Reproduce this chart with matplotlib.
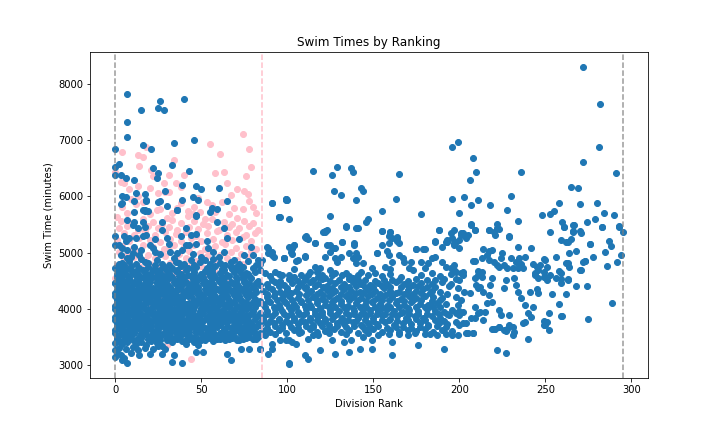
import numpy as np
import matplotlib.pyplot as plt

# (division rank, swim time in minutes)
# pink group: ranks 0..85, mostly hidden under the blue points
pink_top = [
    (74, 7120), (55, 6940), (78, 6850), (61, 6760), (4, 6795), (13, 6740), (18, 6885),
    (14, 6545), (34, 6650), (79, 6525), (58, 6420), (63, 6435), (76, 6365), (40, 6380),
    (31, 6380), (21, 6480), (22, 6365), (0, 6435), (3, 6260), (8, 6135), (5, 6245),
    (13, 6190), (20, 6155), (35, 6245), (38, 6170), (28, 6245), (65, 6245), (71, 6135),
    (75, 6100), (77, 6045), (67, 6030), (25, 6065), (29, 6080), (31, 6080), (13, 6010),
    (48, 5975), (53, 5900), (42, 5740), (62, 5900), (80, 5810), (82, 5700), (74, 5775),
    (4, 5810), (24, 5755), (26, 5775), (36, 5790), (49, 5720), (42, 5650), (45, 5685),
    (58, 5720), (52, 5600), (71, 5610), (30, 5610), (1, 5630), (16, 6700),
    (7, 5700), (12, 5860), (20, 5680), (33, 5700), (38, 5880), (46, 5820), (56, 5850),
    (66, 5690), (69, 5800), (78, 5920), (9, 5950), (16, 5900),
]
pink_core = [
    (3, 5560), (9, 5520), (16, 5600), (22, 5540), (27, 5500), (33, 5580), (38, 5530),
    (46, 5570), (51, 5510), (56, 5590), (63, 5540), (68, 5500), (75, 5560), (80, 5520),
    (2, 5440), (7, 5470), (13, 5410), (19, 5480), (25, 5430), (31, 5460), (36, 5400),
    (43, 5450), (48, 5420), (54, 5480), (60, 5410), (66, 5460), (72, 5430), (78, 5470),
    (83, 5400), (5, 5350), (11, 5320), (17, 5380), (23, 5310), (29, 5360), (35, 5330),
    (41, 5370), (47, 5300), (53, 5340), (59, 5380), (65, 5320), (70, 5360), (76, 5310),
    (81, 5350), (1, 5230), (8, 5200), (14, 5260), (20, 5220), (26, 5180), (32, 5240),
    (38, 5200), (44, 5260), (50, 5210), (57, 5250), (62, 5190), (68, 5230), (74, 5270),
    (79, 5200), (4, 5120), (10, 5080), (16, 5140), (22, 5100), (28, 5060), (34, 5130),
    (40, 5090), (46, 5140), (52, 5070), (58, 5110), (64, 5150), (70, 5080), (76, 5120),
    (82, 5060), (2, 5010), (7, 4980), (13, 5030), (19, 4960), (25, 5000), (31, 5040),
    (37, 4970), (43, 5020), (49, 4990), (55, 5030), (61, 4960), (67, 5010), (73, 4980),
    (79, 5020), (5, 4880), (11, 4920), (17, 4860), (23, 4900), (29, 4940), (35, 4870),
    (41, 4910), (47, 4850), (53, 4930), (59, 4880), (65, 4900), (71, 4860), (77, 4920),
    (1, 4780), (8, 4820), (14, 4760), (20, 4800), (26, 4750), (32, 4820), (38, 4770),
    (44, 4800), (50, 4760), (56, 4830), (62, 4780), (68, 4750), (74, 4800),
    (3, 4680), (10, 4640), (16, 4700), (22, 4620), (28, 4670), (34, 4610), (40, 4690),
    (46, 4640), (52, 4600), (58, 4660), (64, 4620), (70, 4680), (0, 4550), (6, 4500),
    (12, 4470), (18, 4530), (24, 4490), (30, 4450), (36, 4520), (42, 4480), (48, 4540),
    (54, 4460), (60, 4510), (66, 4470), (2, 4350), (9, 4280), (15, 4320), (21, 4260),
    (27, 4310), (33, 4250), (39, 4330), (45, 4290), (51, 4240), (57, 4300), (0, 4050),
    (7, 4100), (14, 4020), (20, 4080), (28, 4000), (35, 4060), (44, 4100), (52, 4030),
    (10, 4270), (1, 4030), (26, 4180), (44, 4210), (41, 3940), (48, 4330), (44, 3095),
    (5, 3800), (15, 3700), (25, 3850), (35, 3600), (45, 3750), (12, 3400), (30, 3350),
]

# blue group: ranks 0..295
blue_top_left = [
    (7, 7833), (40, 7744), (26, 7695), (15, 7547), (25, 7582), (28, 7547), (7, 7332),
    (7, 7063), (46, 7015), (16, 6920), (21, 6854), (34, 6956), (0, 6849), (0, 6532),
    (2, 6585), (33, 6562), (22, 6514), (43, 6460), (25, 6424), (24, 6335), (3, 6388),
    (6, 6335), (11, 6299), (39, 6209), (47, 6191), (50, 6138), (29, 6102), (60, 6156),
    (12, 6066), (17, 6048), (6, 5994), (4, 5887), (45, 5994), (18, 5941), (25, 5905),
    (30, 5834), (39, 5941), (65, 5923), (56, 5798), (59, 5780), (55, 5726), (11, 5726),
    (16, 5762), (17, 5744), (36, 5762), (91, 5887), (99, 5959), (100, 5941), (95, 5635),
    (47, 5673), (0, 6388),
]
blue_mid_left = [
    (4, 6000), (11, 5923), (17, 5762), (19, 5732), (18, 5923), (26, 5911), (36, 5757),
    (48, 5941), (47, 5660), (59, 5553), (63, 5434), (7, 5583), (11, 5553), (10, 5493),
    (13, 5434), (16, 5553), (17, 5452), (27, 5553), (27, 5398), (41, 5434), (38, 5297),
    (0, 5297), (5, 5297), (8, 5255), (12, 5266), (16, 5297), (18, 5314), (23, 5238),
    (30, 5255), (44, 5314), (47, 5338), (47, 5148), (43, 5135), (41, 5135), (65, 5266),
    (72, 5238), (2, 5135), (4, 5076), (7, 5046), (11, 5105), (15, 5046), (20, 5135),
    (22, 5076), (23, 5016), (54, 5087), (57, 5016), (60, 4926), (32, 5016), (36, 4987),
    (9, 4926), (7, 4897), (4, 4808), (1, 4747), (17, 4837), (23, 4777), (28, 4747),
    (35, 4837), (42, 4729), (50, 4926), (52, 4867), (67, 4837), (70, 4747), (74, 4747),
    (76, 4629), (80, 4956), (83, 4867), (91, 5882), (99, 5941), (95, 5642), (88, 5105),
    (91, 5016), (92, 4926), (98, 4897), (101, 5105), (0, 5135), (3, 5869),
    (2, 4800), (5, 4770), (8, 4850), (12, 4790), (15, 4880), (19, 4820), (24, 4860),
    (27, 4800), (31, 4780), (34, 4900), (37, 4820), (40, 4790), (44, 4860), (46, 4770),
    (49, 4830), (55, 4800), (57, 4880), (61, 4820), (64, 4780), (69, 4860), (72, 4800),
    (77, 4840), (82, 4780), (84, 4800), (3, 4950), (10, 5000), (14, 4960), (26, 4970),
    (39, 5050), (45, 4980), (63, 5010), (75, 4950), (79, 5100), (6, 5200), (31, 5150),
    (53, 5200),
]
blue_core_left = [
    (0, 3140), (1, 3200), (3, 3170), (5, 3120), (9, 3210), (14, 3180), (20, 3197),
    (27, 3197), (34, 3166), (47, 3220), (51, 3226), (65, 3197), (67, 3077), (7, 3030),
    (4, 3077), (33, 3047), (39, 3030), (73, 3286), (78, 3286), (84, 3286), (41, 3376),
    (48, 3345), (71, 3435), (0, 3256), (2, 3300), (6, 3270), (10, 3320), (13, 3260),
    (17, 3300), (22, 3280), (25, 3330), (29, 3270), (0, 3380), (2, 3420), (4, 3360),
    (7, 3400), (10, 3430), (12, 3370), (15, 3410), (18, 3350), (21, 3420), (24, 3380),
    (27, 3340), (30, 3430), (33, 3400), (36, 3450), (39, 3420), (43, 3460), (46, 3400),
    (50, 3440), (53, 3470), (57, 3420), (61, 3460), (64, 3440), (68, 3480), (72, 3430),
    (76, 3470), (80, 3450), (83, 3490), (1, 3500), (3, 3540), (6, 3490), (9, 3520),
    (11, 3560), (14, 3500), (17, 3540), (20, 3510), (23, 3560), (26, 3500), (29, 3540),
    (32, 3510), (35, 3570), (38, 3520), (41, 3550), (44, 3500), (47, 3560), (51, 3530),
    (54, 3580), (58, 3520), (62, 3560), (66, 3540), (69, 3590), (73, 3550), (77, 3520),
    (81, 3570), (85, 3540), (0, 3620), (2, 3650), (5, 3600), (8, 3640), (10, 3610),
    (13, 3660), (16, 3620), (19, 3650), (22, 3600), (25, 3640), (28, 3670), (31, 3620),
    (34, 3650), (37, 3600), (40, 3660), (43, 3630), (46, 3670), (49, 3610), (52, 3650),
    (56, 3620), (59, 3670), (63, 3630), (67, 3660), (70, 3610), (74, 3650), (78, 3630),
    (82, 3670), (1, 3734), (3, 3760), (6, 3720), (9, 3750), (12, 3730), (15, 3770),
    (18, 3720), (21, 3760), (24, 3740), (27, 3780), (30, 3730), (33, 3770), (36, 3740),
    (39, 3720), (42, 3770), (45, 3750), (48, 3720), (51, 3780), (55, 3740), (58, 3770),
    (61, 3730), (65, 3760), (68, 3790), (72, 3740), (75, 3780), (79, 3750), (83, 3720),
    (0, 3850), (2, 3820), (4, 3870), (7, 3840), (10, 3880), (13, 3830), (16, 3860),
    (19, 3820), (22, 3880), (25, 3850), (28, 3820), (31, 3870), (34, 3840), (37, 3890),
    (40, 3940), (43, 3860), (47, 3830), (50, 3880), (53, 3850), (57, 3820), (60, 3870),
    (64, 3840), (67, 3890), (71, 3850), (74, 3830), (78, 3880), (82, 3850), (1, 3913),
    (3, 3960), (5, 3990), (8, 3940), (11, 3970), (14, 3930), (17, 3990), (20, 3950),
    (23, 3920), (26, 3980), (29, 3940), (32, 3990), (35, 3950), (38, 3980), (42, 3930),
    (45, 3970), (49, 3950), (52, 3990), (55, 3940), (59, 3980), (62, 3950), (66, 3920),
    (69, 3970), (73, 3940), (76, 3990), (80, 3950), (84, 3920), (0, 4050), (2, 4090),
    (5, 4060), (8, 4100), (11, 4040), (13, 4080), (16, 4060), (19, 4110), (22, 4050),
    (25, 4090), (28, 4070), (31, 4040), (34, 4100), (37, 4060), (41, 4090), (44, 4040),
    (47, 4080), (51, 4060), (54, 4110), (57, 4050), (61, 4090), (64, 4060), (68, 4100),
    (71, 4040), (75, 4080), (78, 4060), (82, 4100), (1, 4151), (3, 4190), (6, 4170),
    (9, 4200), (12, 4160), (15, 4190), (18, 4150), (21, 4200), (24, 4170), (27, 4140),
    (30, 4190), (33, 4160), (36, 4200), (39, 4170), (42, 4220), (46, 4160), (49, 4190),
    (53, 4150), (56, 4200), (60, 4170), (63, 4210), (66, 4160), (70, 4190), (73, 4150),
    (77, 4200), (81, 4170), (84, 4140), (0, 4280), (2, 4310), (5, 4270), (8, 4300),
    (11, 4320), (14, 4260), (17, 4300), (20, 4280), (23, 4320), (26, 4270), (30, 4310),
    (33, 4290), (36, 4330), (40, 4270), (43, 4300), (46, 4320), (50, 4260), (53, 4300),
    (57, 4280), (60, 4330), (64, 4290), (67, 4310), (71, 4270), (74, 4320), (78, 4290),
    (82, 4300), (1, 4400), (4, 4380), (6, 4420), (9, 4390), (12, 4430), (16, 4380),
    (19, 4410), (22, 4370), (25, 4420), (29, 4400), (32, 4380), (35, 4430), (38, 4400),
    (42, 4370), (45, 4420), (48, 4390), (52, 4440), (55, 4400), (58, 4370), (62, 4420),
    (65, 4390), (69, 4430), (72, 4380), (76, 4410), (80, 4390), (84, 4420), (0, 4461),
    (2, 4510), (5, 4490), (8, 4530), (11, 4480), (14, 4520), (18, 4500), (21, 4540),
    (24, 4480), (28, 4520), (31, 4550), (35, 4500), (38, 4530), (41, 4480), (45, 4520),
    (49, 4550), (52, 4490), (56, 4530), (60, 4500), (63, 4540), (67, 4480), (71, 4530),
    (75, 4510), (79, 4550), (83, 4500), (1, 4620), (3, 4650), (7, 4600), (10, 4640),
    (13, 4610), (17, 4660), (20, 4620), (24, 4650), (27, 4600), (31, 4640), (35, 4670),
    (38, 4620), (42, 4600), (46, 4650), (50, 4620), (54, 4660), (57, 4610), (61, 4640),
    (65, 4600), (69, 4650), (73, 4629), (77, 4610), (81, 4660), (0, 4718), (3, 4740),
    (6, 4700), (9, 4760), (14, 4720), (19, 4750), (23, 4710), (33, 4730), (38, 4760),
    (47, 4740), (53, 4720), (58, 4760), (62, 4710), (67, 4747), (80, 4730),
]
# second layer of the left block, sitting between the rows above
blue_core_fill = [
    (1, 3460), (5, 3450), (8, 3480), (12, 3440), (15, 3470), (19, 3450), (23, 3480),
    (26, 3440), (30, 3470), (34, 3455), (37, 3490), (41, 3445), (45, 3475), (48, 3460),
    (52, 3440), (55, 3480), (59, 3455), (63, 3490), (66, 3460), (70, 3480), (74, 3450),
    (78, 3500), (82, 3460), (0, 3570), (4, 3580), (7, 3555), (11, 3590), (15, 3560),
    (18, 3595), (22, 3570), (25, 3585), (28, 3555), (32, 3590), (36, 3565), (40, 3600),
    (43, 3575), (47, 3595), (50, 3570), (54, 3545), (57, 3590), (61, 3560), (64, 3595),
    (68, 3565), (72, 3600), (76, 3570), (80, 3590), (84, 3560), (1, 3690), (4, 3670),
    (7, 3700), (11, 3680), (14, 3705), (17, 3675), (21, 3695), (24, 3680), (27, 3710),
    (30, 3675), (33, 3700), (36, 3690), (39, 3670), (42, 3705), (45, 3680), (48, 3700),
    (51, 3675), (55, 3695), (58, 3680), (61, 3710), (65, 3690), (69, 3705), (72, 3680),
    (76, 3700), (80, 3685), (84, 3700), (0, 3790), (4, 3800), (8, 3780), (11, 3810),
    (14, 3790), (17, 3805), (20, 3785), (23, 3810), (26, 3795), (29, 3780), (32, 3810),
    (35, 3795), (38, 3820), (41, 3800), (44, 3790), (47, 3810), (50, 3785), (53, 3810),
    (56, 3795), (60, 3805), (63, 3785), (66, 3815), (70, 3795), (73, 3810), (77, 3790),
    (81, 3810), (85, 3790), (1, 3880), (3, 3900), (6, 3890), (9, 3910), (12, 3885),
    (15, 3905), (18, 3890), (21, 3915), (24, 3895), (27, 3880), (30, 3910), (33, 3895),
    (36, 3915), (39, 3880), (42, 3900), (45, 3910), (48, 3890), (51, 3915), (55, 3895),
    (58, 3910), (62, 3890), (65, 3905), (69, 3885), (72, 3910), (76, 3890), (80, 3905),
    (84, 3880), (0, 4000), (3, 4020), (7, 4010), (10, 4030), (13, 4005), (16, 4025),
    (19, 4000), (22, 4020), (25, 4035), (28, 4010), (31, 4025), (34, 4000), (37, 4020),
    (40, 4030), (43, 4010), (46, 4025), (50, 4005), (53, 4030), (56, 4010), (59, 4025),
    (63, 4000), (66, 4020), (70, 4015), (73, 4030), (77, 4005), (81, 4020), (1, 4120),
    (4, 4110), (7, 4135), (10, 4115), (13, 4125), (17, 4105), (20, 4130), (23, 4110),
    (26, 4125), (29, 4110), (32, 4130), (36, 4115), (39, 4125), (43, 4105), (46, 4130),
    (49, 4115), (52, 4125), (56, 4110), (59, 4130), (62, 4115), (66, 4125), (69, 4110),
    (73, 4130), (76, 4115), (80, 4125), (83, 4105), (0, 4230), (3, 4240), (7, 4220),
    (10, 4245), (13, 4225), (16, 4240), (19, 4230), (22, 4245), (25, 4225), (28, 4240),
    (32, 4230), (35, 4250), (38, 4230), (41, 4245), (44, 4225), (48, 4240), (51, 4230),
    (55, 4250), (58, 4230), (62, 4245), (65, 4225), (69, 4240), (72, 4230), (76, 4250),
    (80, 4235), (1, 4340), (4, 4330), (7, 4355), (10, 4340), (13, 4350), (16, 4330),
    (19, 4355), (22, 4340), (26, 4350), (29, 4330), (32, 4355), (35, 4340), (38, 4350),
    (42, 4330), (45, 4355), (48, 4340), (52, 4350), (55, 4330), (59, 4355), (62, 4340),
    (66, 4350), (69, 4330), (73, 4355), (77, 4340), (81, 4350), (0, 4450), (3, 4440),
    (7, 4465), (10, 4450), (14, 4460), (17, 4440), (20, 4465), (24, 4450), (27, 4460),
    (30, 4440), (34, 4465), (37, 4450), (40, 4460), (44, 4440), (47, 4465), (51, 4450),
    (54, 4460), (57, 4440), (61, 4465), (64, 4450), (68, 4460), (71, 4440), (75, 4465),
    (78, 4450), (82, 4460), (1, 4560), (4, 4580), (8, 4565), (12, 4575), (16, 4560),
    (19, 4585), (23, 4570), (26, 4560), (30, 4580), (33, 4565), (37, 4575), (40, 4560),
    (44, 4585), (47, 4570), (51, 4560), (55, 4580), (58, 4570), (62, 4560), (66, 4585),
    (70, 4570), (74, 4560), (78, 4580), (2, 4680), (5, 4670), (9, 4690), (12, 4675),
    (16, 4690), (22, 4680), (26, 4690), (30, 4670), (36, 4690), (41, 4680), (45, 4700),
    (52, 4675), (56, 4690), (63, 4680), (68, 4700), (72, 4690),
]
blue_band_mid = [
    (86, 3600), (90, 3580), (95, 3620), (99, 3570), (104, 3610), (108, 3590), (113, 3630),
    (117, 3580), (122, 3600), (127, 3640), (131, 3590), (136, 3620), (141, 3570),
    (145, 3610), (150, 3630), (155, 3590), (160, 3620), (165, 3580), (170, 3610),
    (175, 3600), (180, 3640), (185, 3590), (190, 3620), (196, 3600), (88, 3720),
    (92, 3750), (97, 3700), (101, 3740), (106, 3720), (110, 3760), (115, 3710),
    (119, 3740), (124, 3700), (129, 3750), (133, 3720), (138, 3760), (143, 3710),
    (147, 3740), (152, 3720), (157, 3760), (162, 3700), (167, 3740), (172, 3720),
    (177, 3750), (182, 3710), (188, 3740), (193, 3720), (198, 3760), (86, 3840),
    (91, 3870), (95, 3820), (100, 3860), (104, 3840), (109, 3880), (113, 3830),
    (118, 3860), (122, 3820), (127, 3870), (132, 3840), (136, 3880), (141, 3830),
    (146, 3860), (150, 3840), (155, 3880), (160, 3820), (164, 3860), (169, 3840),
    (174, 3870), (179, 3830), (184, 3860), (189, 3840), (194, 3880), (88, 3960),
    (93, 3990), (97, 3950), (102, 3980), (106, 3940), (111, 3990), (116, 3960),
    (120, 3930), (125, 3980), (130, 3950), (134, 3990), (139, 3960), (144, 3930),
    (148, 3980), (153, 3950), (158, 3990), (162, 3960), (167, 3930), (171, 3980),
    (176, 3950), (181, 3990), (186, 3960), (191, 3940), (196, 3970), (86, 4080),
    (90, 4110), (95, 4060), (99, 4100), (104, 4080), (108, 4120), (113, 4070),
    (117, 4100), (122, 4060), (126, 4110), (131, 4080), (135, 4050), (140, 4100),
    (145, 4070), (149, 4120), (154, 4080), (158, 4050), (163, 4100), (168, 4070),
    (172, 4110), (177, 4080), (182, 4060), (187, 4100), (192, 4080), (88, 4200),
    (92, 4230), (97, 4180), (101, 4220), (106, 4190), (111, 4240), (115, 4200),
    (120, 4170), (124, 4220), (129, 4190), (134, 4230), (138, 4200), (143, 4180),
    (147, 4220), (152, 4190), (157, 4240), (161, 4200), (166, 4170), (171, 4220),
    (175, 4190), (180, 4230), (185, 4200), (190, 4180), (86, 4320), (91, 4350),
    (96, 4300), (100, 4340), (105, 4310), (110, 4360), (114, 4320), (119, 4290),
    (123, 4340), (128, 4310), (133, 4350), (137, 4320), (142, 4300), (147, 4340),
    (151, 4310), (156, 4360), (160, 4320), (165, 4290), (170, 4340), (175, 4310),
    (179, 4350), (184, 4320), (189, 4300), (88, 4440), (93, 4470), (98, 4420),
    (103, 4460), (108, 4430), (113, 4480), (118, 4440), (123, 4410), (128, 4460),
    (133, 4430), (138, 4480), (143, 4440), (148, 4420), (153, 4460), (158, 4430),
    (163, 4470), (168, 4440), (173, 4420), (178, 4460), (184, 4430), (190, 4470),
    (195, 4440),
]
# second layer of the middle band, with a few gaps left open
blue_band_fill = [
    (88, 3660), (93, 3680), (97, 3650), (102, 3675), (106, 3660), (111, 3690),
    (115, 3665), (120, 3680), (124, 3655), (129, 3685), (134, 3665), (139, 3690),
    (148, 3670), (153, 3680), (158, 3660), (167, 3675), (177, 3665), (187, 3680),
    (86, 3790), (90, 3780), (95, 3800), (99, 3785), (104, 3795), (108, 3780), (113, 3800),
    (117, 3790), (122, 3780), (126, 3805), (131, 3790), (135, 3800), (140, 3780),
    (145, 3800), (150, 3785), (159, 3800), (170, 3790), (180, 3800), (191, 3785),
    (88, 3900), (93, 3915), (98, 3895), (102, 3910), (107, 3900), (111, 3920),
    (116, 3905), (120, 3890), (125, 3915), (129, 3900), (134, 3920), (139, 3905),
    (143, 3895), (148, 3915), (157, 3900), (166, 3915), (176, 3895), (188, 3910),
    (87, 4020), (92, 4035), (96, 4015), (101, 4030), (105, 4020), (110, 4040),
    (114, 4025), (119, 4010), (124, 4035), (128, 4020), (133, 4030), (138, 4015),
    (142, 4035), (151, 4020), (160, 4030), (170, 4015), (180, 4030), (189, 4020),
    (89, 4140), (94, 4155), (98, 4135), (103, 4150), (108, 4140), (112, 4160),
    (117, 4145), (122, 4130), (127, 4155), (131, 4140), (136, 4150), (146, 4140),
    (155, 4155), (164, 4135), (173, 4150), (184, 4140), (88, 4260), (93, 4275),
    (98, 4255), (102, 4270), (107, 4260), (112, 4280), (117, 4265), (121, 4250),
    (126, 4275), (131, 4260), (140, 4270), (149, 4255), (159, 4275), (168, 4260),
    (178, 4270), (89, 4380), (95, 4395), (100, 4375), (106, 4390), (111, 4380),
    (116, 4400), (121, 4385), (126, 4370), (136, 4390), (145, 4380), (155, 4395),
    (166, 4380), (181, 4390), (91, 4510), (96, 4500), (101, 4520), (106, 4500),
    (115, 4515), (125, 4500), (136, 4520), (145, 4505), (156, 4510), (170, 4500),
    (186, 4515),
    (144, 3665), (163, 3670), (172, 3660), (182, 3690), (192, 3670), (155, 3795),
    (164, 3785), (175, 3805), (186, 3795), (152, 3905), (161, 3895), (171, 3910),
    (181, 3900), (193, 3905), (146, 4025), (155, 4015), (165, 4030), (175, 4020),
    (185, 4035), (141, 4145), (150, 4135), (159, 4150), (168, 4140), (178, 4155),
    (189, 4145), (135, 4265), (144, 4270), (154, 4260), (163, 4280), (173, 4265),
    (183, 4275), (193, 4260), (131, 4385), (140, 4395), (150, 4380), (160, 4390),
    (171, 4385), (176, 4395), (186, 4380), (194, 4395), (110, 4505), (120, 4520),
    (130, 4505), (141, 4515), (151, 4500), (161, 4515), (165, 4505), (175, 4520),
    (181, 4505), (191, 4520), (198, 4530), (90, 4580), (95, 4620), (104, 4560),
    (112, 4600), (118, 4570), (128, 4640), (136, 4580), (143, 4660), (155, 4580),
    (160, 4620), (166, 4560), (178, 4600), (184, 4640), (189, 4580), (195, 4620),
    (125, 4680), (104, 4700), (160, 4700), (180, 4720), (93, 3540), (107, 3555),
    (115, 3520), (124, 3560), (134, 3540), (147, 3560), (153, 3530), (165, 3545),
    (174, 3560), (183, 3540),
]
blue_scatter_mid = [
    (122, 5374), (123, 5404), (134, 5463), (140, 5433), (155, 5386), (160, 5374),
    (188, 5403), (111, 5254), (110, 5284), (116, 5165), (89, 5075), (91, 4956),
    (89, 4986), (103, 5075), (104, 5135), (102, 5016), (110, 4926), (106, 4866),
    (98, 4896), (123, 5135), (128, 5075), (125, 5016), (122, 4926), (132, 5195),
    (139, 5135), (140, 4986), (136, 4986), (138, 4896), (141, 4926), (140, 4807),
    (131, 4926), (128, 4896), (129, 4837), (144, 4807), (152, 4986), (155, 5135),
    (159, 5165), (161, 5254), (164, 5254), (165, 5165), (159, 4956), (161, 4837),
    (165, 4956), (167, 4896), (168, 4837), (157, 4747), (175, 5063), (179, 5063),
    (172, 4837), (178, 4837), (182, 4807), (184, 4896), (186, 4926), (186, 5195),
    (190, 5105), (193, 5195), (197, 5135), (200, 5075), (198, 5195), (196, 5254),
    (195, 5344), (197, 5403), (201, 5314), (190, 4837), (192, 4747), (195, 4717),
    (197, 4777), (198, 4658), (202, 4658), (171, 4717), (173, 4687), (149, 4717),
    (151, 4628), (147, 4598), (116, 4747), (119, 4717), (117, 4658), (113, 4658),
    (85, 4866), (84, 4687), (87, 4628), (93, 4658), (97, 4598), (101, 4598), (108, 4598),
    (110, 4538), (120, 4598), (122, 4538), (126, 4598), (132, 4598), (134, 4628),
    (138, 4538), (141, 4598), (84, 3273), (89, 3196), (101, 3035), (110, 3166),
    (112, 3106), (119, 3255), (128, 3196), (136, 3226), (142, 3285), (149, 3285),
    (161, 3166), (176, 3345), (191, 3285), (149, 3434), (87, 3524), (91, 3375),
    (96, 3434), (101, 3434), (103, 3405), (105, 3375), (112, 3464), (118, 3524),
    (126, 3434), (133, 3405), (137, 3434), (144, 3494), (161, 3405), (159, 3554),
    (170, 3524), (180, 3554), (187, 3524), (192, 3554), (196, 3524), (199, 3524),
    (101, 3018), (91, 3286), (99, 3435),
    (196, 6884), (199, 6974), (208, 6687), (210, 6437), (206, 6294), (115, 6455),
    (126, 6383), (129, 6526), (137, 6508), (138, 6437), (165, 6401), (127, 6097),
    (131, 6025), (143, 6150), (144, 6097), (140, 5936), (163, 5954), (196, 5954),
    (203, 5989), (207, 5846), (211, 5936), (99, 5954), (96, 5631), (101, 5596),
    (125, 5649), (155, 5739), (147, 5596), (146, 5542), (178, 5685), (200, 5703),
    (134, 5470), (141, 5434), (155, 5381), (160, 5363), (159, 5291), (164, 5273),
    (164, 5202), (122, 5381), (121, 5363), (188, 5399), (201, 5345), (207, 5506),
    (209, 5399), (111, 5291), (112, 5238), (116, 5166), (104, 5130), (103, 5076),
    (103, 4969), (98, 4897), (125, 5130), (127, 5076), (132, 5184), (139, 5166),
    (152, 4987), (158, 5023), (186, 5202), (192, 5184), (193, 5220), (175, 5058),
    (180, 5058), (110, 4933), (105, 4844),
]
blue_right = [
    (272, 8316), (282, 7654), (281, 6884), (272, 6616), (291, 6419), (236, 6437),
    (265, 6168), (269, 6150), (218, 5846), (230, 6007), (228, 5757), (258, 5882),
    (270, 5864), (280, 5882), (284, 5703), (290, 5667), (248, 5667), (253, 5685),
    (255, 5739), (234, 5560), (222, 5506), (223, 5417), (217, 5399), (220, 5363),
    (229, 5291), (260, 5542), (261, 5452), (267, 5488), (266, 5381), (270, 5381),
    (271, 5345), (253, 5363), (259, 5220), (263, 5184), (265, 5238), (274, 5542),
    (279, 5596), (283, 5452), (293, 5470), (295, 5363), (287, 5202), (288, 5112),
    (285, 5005), (292, 4826), (286, 4754), (294, 4951), (289, 4092), (275, 3805),
    (268, 4396), (274, 4396), (270, 4688), (272, 4837), (268, 5023), (264, 4987),
    (263, 4808), (276, 5148), (278, 4915), (273, 4844), (258, 4074), (259, 3859),
    (262, 4253), (252, 3913), (249, 3770), (252, 3614), (249, 3698), (254, 4253),
    (240, 3465), (243, 4020), (245, 4342), (246, 4271), (242, 5076), (222, 3268),
    (227, 3215), (208, 4844), (201, 4629), (213, 4563), (211, 4665),
    (207, 5493), (209, 5404), (202, 5345), (205, 5314), (204, 5255), (200, 5225),
    (197, 5166), (217, 5404), (221, 5314), (222, 5434), (229, 5284), (261, 5463),
    (266, 5374), (266, 5493), (283, 5463), (293, 5463), (262, 5195), (276, 5153),
    (234, 5094), (214, 5064), (217, 5028), (219, 5046), (216, 4956), (213, 4897),
    (209, 4849), (217, 4867), (220, 4837), (225, 4987), (224, 4897), (222, 4777),
    (223, 4747), (230, 4908), (235, 4897), (238, 4915), (233, 4837), (236, 4790),
    (226, 4777), (228, 4718), (231, 4729), (234, 4729), (237, 4718), (243, 4790),
    (245, 4747), (247, 4777), (250, 4867), (251, 4747), (256, 4915), (249, 4658),
    (244, 4598), (246, 4539), (250, 4568), (253, 4598), (256, 4539), (259, 4629),
    (262, 4808), (264, 4747), (273, 4849), (271, 4688), (263, 4509), (259, 4450),
    (251, 3763), (250, 3703), (241, 4300), (240, 3913), (242, 3852), (237, 3734),
    (238, 3763), (231, 3673), (232, 3584), (228, 3644), (227, 3596), (229, 3703),
    (223, 3673), (219, 3644), (221, 3644), (229, 3882), (224, 3882), (223, 3972),
    (215, 3942), (211, 3913), (207, 3823), (204, 3734), (200, 3703), (205, 3555),
    (208, 3555), (197, 4688), (200, 4509), (202, 4598), (199, 4360), (203, 4300),
    (206, 4271), (198, 4210), (201, 4151), (199, 4062), (209, 4539), (211, 4598),
    (213, 4658), (211, 4360), (214, 4300), (217, 4240), (216, 4092), (219, 4121),
    (210, 4419), (218, 4419), (198, 3913), (200, 3882), (202, 3942), (209, 4031),
    (212, 3942), (226, 4360), (227, 4509), (232, 4539), (233, 4419), (234, 4300),
    (236, 4181), (238, 4062), (219, 4539), (212, 4390), (200, 3960), (204, 3555),
    (208, 3566), (202, 3734), (220, 3644), (223, 3662), (226, 3614), (231, 3524),
    (214, 3793), (209, 3834), (244, 4629), (246, 4688), (249, 4568), (251, 4509),
    (249, 4880), (258, 4670), (259, 4532), (263, 4521), (260, 3865),
]

# pink gets its last rank at 85, the blue division runs 0..295
pink_cutoff = 85
blue_first, blue_last = 0, 295

fig, ax = plt.subplots(figsize=(10, 6), dpi=72)
fig.subplots_adjust(left=0.125, right=0.9, top=0.88, bottom=0.124)

pr, pt = np.array(pink_top + pink_core).T
ax.scatter(pr, pt, color="pink")

blue = (blue_top_left + blue_mid_left + blue_core_left + blue_core_fill
        + blue_band_mid + blue_band_fill + blue_scatter_mid + blue_right)
br, bt = np.array(blue).T
ax.scatter(br, bt, color="#1f77b4")

ax.axvline(blue_first, color="gray", linestyle="--", alpha=0.8)
ax.axvline(blue_last, color="gray", linestyle="--", alpha=0.8)
ax.axvline(pink_cutoff, color="pink", linestyle="--")

ax.set_title("Swim Times by Ranking")
ax.set_xlabel("Division Rank")
ax.set_ylabel("Swim Time (minutes)")

fig.savefig("out.png", dpi=72)
